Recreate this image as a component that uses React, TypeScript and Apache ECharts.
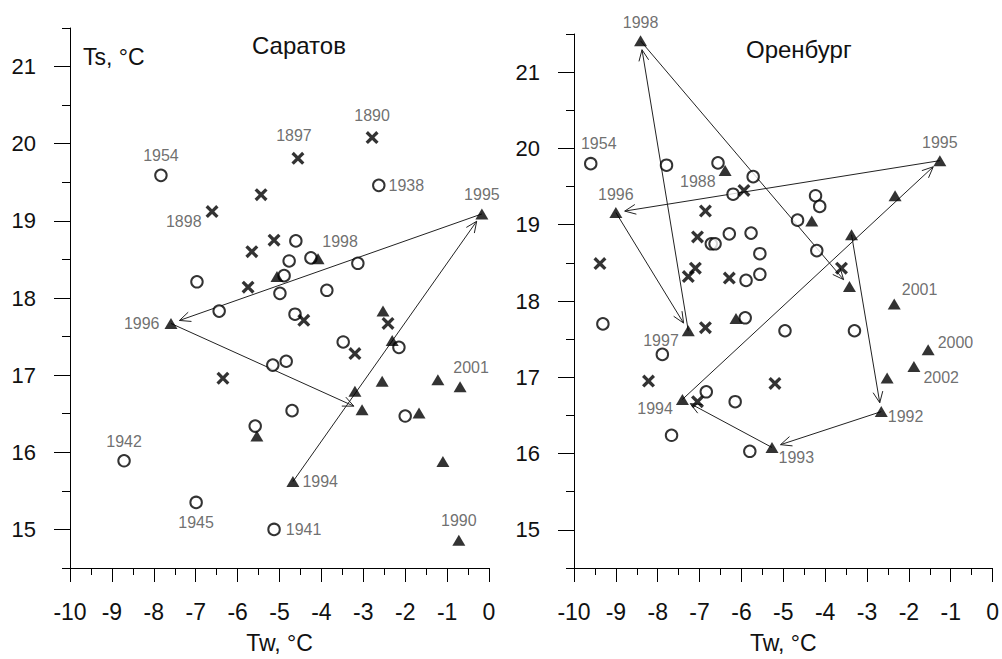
import React, { useEffect, useRef } from 'react';
import * as echarts from 'echarts';

type Pt = [number, number, string];

const xTickValues = [-10, -9, -8, -7, -6, -5, -4, -3, -2, -1, 0];
const yTickLabels = [15, 16, 17, 18, 19, 20, 21];
const yMinorTicks = [14.5, 15.5, 16.5, 17.5, 18.5, 19.5, 20.5, 21.5];

const panelTitles = ['Саратов', 'Оренбург'];
const xAxisName = 'Tw, °C';
const yAxisName = 'Ts, °C';

// Саратов
const saratovCircles: Pt[] = [
  [-7.83, 19.59, '1954'], [-2.63, 19.46, '1938'], [-4.61, 18.74, ''], [-4.77, 18.48, ''],
  [-4.25, 18.52, ''], [-3.13, 18.45, ''], [-4.89, 18.29, ''], [-6.97, 18.21, ''],
  [-4.99, 18.06, ''], [-3.87, 18.10, ''], [-6.44, 17.83, ''], [-4.63, 17.79, ''],
  [-3.48, 17.43, ''], [-2.15, 17.36, ''], [-5.16, 17.13, ''], [-4.84, 17.18, ''],
  [-4.70, 16.54, ''], [-2.00, 16.47, ''], [-5.58, 16.34, ''], [-8.71, 15.89, '1942'],
  [-6.99, 15.35, '1945'], [-5.13, 15.00, '1941'],
];
const saratovCrosses: Pt[] = [
  [-2.79, 20.08, '1890'], [-4.56, 19.81, '1897'], [-5.44, 19.34, ''], [-6.61, 19.12, '1898'],
  [-5.13, 18.75, ''], [-5.66, 18.60, ''], [-5.75, 18.14, ''], [-4.42, 17.71, ''],
  [-2.41, 17.67, ''], [-3.20, 17.28, ''], [-6.35, 16.96, ''],
];
const saratovTriangles: Pt[] = [
  [-0.17, 19.09, '1995'], [-4.08, 18.51, '1998'], [-5.06, 18.28, ''], [-7.59, 17.67, '1996'],
  [-2.53, 17.83, ''], [-2.31, 17.45, ''], [-2.55, 16.92, ''], [-1.22, 16.94, ''],
  [-0.69, 16.85, '2001'], [-3.20, 16.79, ''], [-3.03, 16.55, '1997'], [-1.67, 16.51, ''],
  [-5.54, 16.21, ''], [-4.68, 15.62, '1994'], [-1.10, 15.88, ''], [-0.72, 14.86, '1990'],
];
const saratovArrows: [string, string][] = [['1994', '1995'], ['1995', '1996'], ['1996', '1997']];

// Оренбург
const orenburgCircles: Pt[] = [
  [-9.60, 19.80, '1954'], [-7.79, 19.78, ''], [-6.56, 19.81, ''], [-5.72, 19.63, ''],
  [-6.20, 19.40, ''], [-4.23, 19.38, ''], [-4.13, 19.24, ''], [-4.66, 19.06, ''],
  [-6.29, 18.88, ''], [-5.77, 18.89, ''], [-6.72, 18.75, ''], [-6.63, 18.75, ''],
  [-5.56, 18.62, ''], [-4.20, 18.66, ''], [-5.89, 18.27, ''], [-5.56, 18.35, ''],
  [-9.31, 17.70, ''], [-5.91, 17.78, ''], [-4.96, 17.61, ''], [-3.30, 17.61, ''],
  [-7.89, 17.30, ''], [-6.84, 16.81, ''], [-6.15, 16.68, ''], [-7.67, 16.24, ''],
  [-5.80, 16.03, ''],
];
const orenburgCrosses: Pt[] = [
  [-5.94, 19.45, ''], [-6.86, 19.18, ''], [-7.05, 18.84, ''], [-9.38, 18.49, ''],
  [-7.10, 18.43, ''], [-7.27, 18.32, ''], [-6.29, 18.30, ''], [-3.61, 18.43, ''],
  [-6.86, 17.65, ''], [-8.22, 16.95, ''], [-5.20, 16.92, ''], [-7.05, 16.68, ''],
];
const orenburgTriangles: Pt[] = [
  [-8.41, 21.41, '1998'], [-1.26, 19.84, '1995'], [-6.39, 19.71, '1988'], [-9.00, 19.16, '1996'],
  [-4.32, 19.05, ''], [-2.33, 19.38, ''], [-3.37, 18.87, '1991'], [-3.42, 18.19, '1999'],
  [-2.35, 17.96, '2001'], [-6.13, 17.77, ''], [-7.27, 17.61, '1997'], [-1.54, 17.36, '2000'],
  [-1.88, 17.14, '2002'], [-2.52, 16.99, ''], [-7.41, 16.71, '1994'], [-2.66, 16.55, '1992'],
  [-5.27, 16.08, '1993'],
];
const orenburgArrows: [string, string][] = [
  ['1991', '1992'], ['1992', '1993'], ['1993', '1994'], ['1994', '1995'],
  ['1995', '1996'], ['1996', '1997'], ['1997', '1998'], ['1998', '1999'],
];

type LabelCfg = { pos: string; offset?: [number, number]; dist?: number };
const saratovLabelStyle: Record<string, LabelCfg> = {
  '1954': { pos: 'top', dist: 5 },
  '1938': { pos: 'right', dist: 3 },
  '1890': { pos: 'top', dist: 8 },
  '1897': { pos: 'top', dist: 8, offset: [-4, 0] },
  '1898': { pos: 'left', dist: 4, offset: [0, 10] },
  '1995': { pos: 'top', dist: 6 },
  '1998': { pos: 'top', dist: 6, offset: [22, 2] },
  '1996': { pos: 'left', dist: 5 },
  '2001': { pos: 'top', dist: 6, offset: [11, 0] },
  '1994': { pos: 'right', dist: 3 },
  '1990': { pos: 'top', dist: 6 },
  '1942': { pos: 'top', dist: 5 },
  '1945': { pos: 'bottom', dist: 5 },
  '1941': { pos: 'right', dist: 5 },
};
const orenburgLabelStyle: Record<string, LabelCfg> = {
  '1998': { pos: 'top', dist: 5 },
  '1954': { pos: 'top', dist: 5, offset: [8, 0] },
  '1988': { pos: 'left', dist: 3, offset: [0, 11] },
  '1996': { pos: 'top', dist: 5 },
  '1995': { pos: 'top', dist: 5 },
  '1997': { pos: 'left', dist: 3, offset: [0, 10] },
  '2001': { pos: 'right', dist: 3, offset: [-2, -15] },
  '2000': { pos: 'right', dist: 3, offset: [0, -7] },
  '2002': { pos: 'right', dist: 3, offset: [0, 11] },
  '1992': { pos: 'right', dist: 2, offset: [-2, 5] },
  '1993': { pos: 'right', dist: 2, offset: [-2, 10] },
  '1994': { pos: 'left', dist: 3, offset: [0, 9] },
};

const FONT = 'Liberation Sans, Arial, sans-serif';
const CROSS = 'path://M0,1.8L1.8,0L5,3.2L8.2,0L10,1.8L6.8,5L10,8.2L8.2,10L5,6.8L1.8,10L0,8.2L3.2,5Z';

function items(pts: Pt[], labels: Record<string, LabelCfg>) {
  return pts.map(([x, y, yr]) => {
    const l = yr ? labels[yr] : undefined;
    if (!l) return { value: [x, y] };
    return {
      value: [x, y],
      label: {
        show: true,
        formatter: yr,
        position: l.pos,
        distance: l.dist ?? 5,
        offset: l.offset || [0, 0],
      },
    };
  });
}

const labelBase = { fontSize: 16, color: '#4a4a4a', fontFamily: FONT };

function panelSeries(
  gi: number,
  circles: Pt[],
  crosses: Pt[],
  triangles: Pt[],
  labels: Record<string, LabelCfg>
) {
  const axes = { xAxisIndex: gi, yAxisIndex: gi * 2 };
  return [
    {
      type: 'scatter', ...axes, z: 3, symbol: 'emptyCircle', symbolSize: 11.5,
      itemStyle: { color: '#000', borderColor: '#000', borderWidth: 1.7 },
      label: labelBase, data: items(circles, labels),
    },
    {
      type: 'scatter', ...axes, z: 3, symbol: CROSS, symbolSize: 13,
      itemStyle: { color: '#000' }, label: labelBase, data: items(crosses, labels),
    },
    {
      type: 'scatter', ...axes, z: 4, symbol: 'triangle', symbolSize: [13, 11],
      itemStyle: { color: '#000' }, label: labelBase, data: items(triangles, labels),
    },
  ];
}

function xAxisCfg(gi: number) {
  return {
    type: 'value', gridIndex: gi, min: xTickValues[0], max: xTickValues[xTickValues.length - 1], interval: 1,
    axisLine: { show: true, onZero: false, lineStyle: { color: '#000', width: 1 } },
    axisTick: { show: true, length: 14, lineStyle: { color: '#000', width: 1 } },
    minorTick: { show: true, splitNumber: 2, length: 7, lineStyle: { color: '#000', width: 1 } },
    axisLabel: { fontSize: 23, color: '#111', margin: 32, fontFamily: FONT },
    splitLine: { show: false }, minorSplitLine: { show: false },
    name: xAxisName, nameLocation: 'middle', nameGap: 63,
    nameTextStyle: { fontSize: 23, color: '#111', fontFamily: FONT },
  };
}

function yAxisCfgs(gi: number) {
  return [
    {
      type: 'value', gridIndex: gi, min: 14.5, max: 21.5, position: 'left',
      axisLine: { show: true, onZero: false, lineStyle: { color: '#000', width: 1 } },
      axisTick: { show: true, length: 16, customValues: yTickLabels, lineStyle: { color: '#000', width: 1 } },
      axisLabel: { fontSize: 22, color: '#111', margin: 34, customValues: yTickLabels, fontFamily: FONT },
      splitLine: { show: false },
    },
    {
      type: 'value', gridIndex: gi, min: 14.5, max: 21.5, position: 'left',
      axisLine: { show: false, onZero: false },
      axisTick: { show: true, length: 8, customValues: yMinorTicks, lineStyle: { color: '#000', width: 1 } },
      axisLabel: { show: false },
      splitLine: { show: false },
    },
  ];
}

const GAP = 9;
const HEAD = 11;
const HALF_ANGLE = (24 * Math.PI) / 180;

function arrowData(chart: any, seriesIndex: number, pts: Pt[], arrows: [string, string][]) {
  const finder = { seriesIndex };
  const find = (yr: string) => pts.find((p) => p[2] === yr)!;
  const toData = (p: number[]) => chart.convertFromPixel(finder, p);
  const shafts: any[] = [];
  const heads: any[] = [];
  arrows.forEach(([a, b]) => {
    const pa = find(a);
    const pb = find(b);
    const A = chart.convertToPixel(finder, [pa[0], pa[1]]);
    const B = chart.convertToPixel(finder, [pb[0], pb[1]]);
    const dx = B[0] - A[0];
    const dy = B[1] - A[1];
    const len = Math.hypot(dx, dy);
    const ux = dx / len;
    const uy = dy / len;
    const tip = [B[0] - ux * GAP, B[1] - uy * GAP];
    const back = [tip[0] - ux * HEAD, tip[1] - uy * HEAD];
    const w = HEAD * Math.tan(HALF_ANGLE);
    const arm1 = [back[0] - uy * w, back[1] + ux * w];
    const arm2 = [back[0] + uy * w, back[1] - ux * w];
    shafts.push({ coords: [toData(A), toData(tip)] });
    heads.push({ coords: [toData(arm1), toData(tip), toData(arm2)] });
  });
  return [...shafts, ...heads];
}

export default function App() {
  const ref = useRef<HTMLDivElement>(null);
  useEffect(() => {
    if (!ref.current) return;
    const chart = echarts.init(ref.current, undefined, { renderer: 'svg' });
    const base: any = {
      animation: false,
      backgroundColor: '#fff',
      grid: [
        { left: 70, top: 28, width: 419, height: 543 },
        { left: 574, top: 34, width: 421, height: 542 },
      ],
      xAxis: [xAxisCfg(0), xAxisCfg(1)],
      yAxis: [...yAxisCfgs(0), ...yAxisCfgs(1)],
      graphic: [
        { type: 'text', left: 83, top: 45, style: { text: yAxisName, fontSize: 23, fill: '#111', fontFamily: FONT } },
        { type: 'text', left: 252, top: 33, style: { text: panelTitles[0], fontSize: 24, fill: '#111', fontFamily: FONT } },
        { type: 'text', left: 746, top: 37, style: { text: panelTitles[1], fontSize: 24, fill: '#111', fontFamily: FONT } },
      ],
      series: [
        ...panelSeries(0, saratovCircles, saratovCrosses, saratovTriangles, saratovLabelStyle),
        ...panelSeries(1, orenburgCircles, orenburgCrosses, orenburgTriangles, orenburgLabelStyle),
      ],
    };
    chart.setOption(base);
    const lineCommon = {
      type: 'lines', coordinateSystem: 'cartesian2d', polyline: true, z: 2,
      symbol: ['none', 'none'],
      lineStyle: { color: '#222', width: 1, opacity: 1, curveness: 0 },
    };
    chart.setOption({
      series: [
        ...base.series,
        { ...lineCommon, xAxisIndex: 0, yAxisIndex: 0, data: arrowData(chart, 2, saratovTriangles, saratovArrows) },
        { ...lineCommon, xAxisIndex: 1, yAxisIndex: 2, data: arrowData(chart, 5, orenburgTriangles, orenburgArrows) },
      ],
    });
    return () => chart.dispose();
  }, []);
  return (
    <div
      ref={ref}
      style={{ position: 'absolute', left: 0, top: 0, width: 1002, height: 659, background: '#fff' }}
    />
  );
}
